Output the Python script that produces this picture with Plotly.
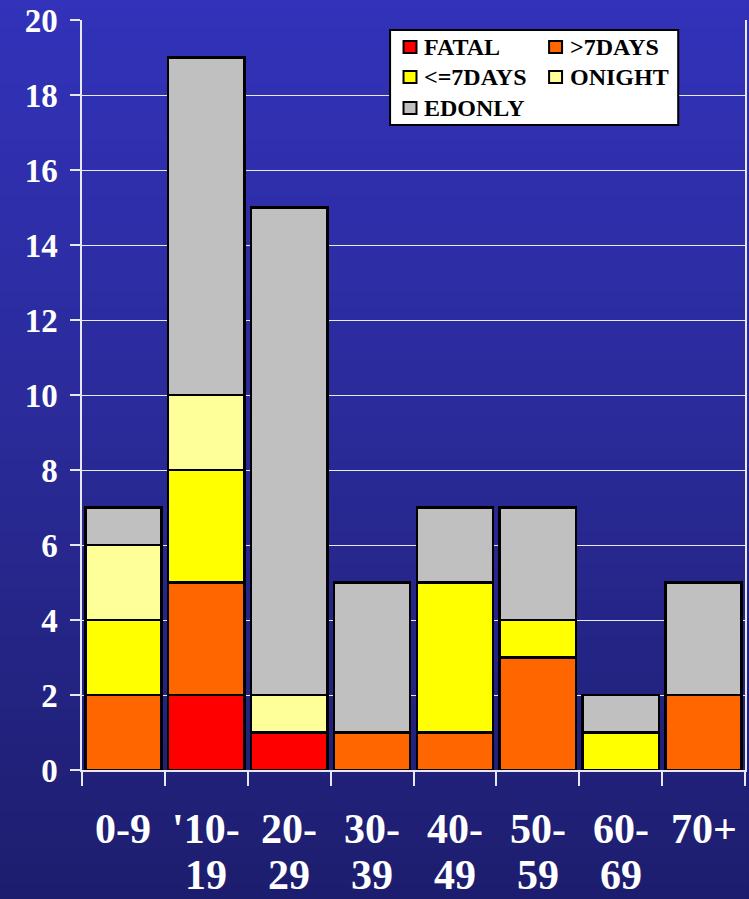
import plotly.graph_objects as go

# Age groups and tick text (two lines for most groups)
categories = ["0-9", "'10-19", "20-29", "30-39", "40-49", "50-59", "60-69", "70+"]
label_top = ["0-9", "'10-", "20-", "30-", "40-", "50-", "60-", "70+"]
label_bottom = ["", "19", "29", "39", "49", "59", "69", ""]

# Outcome counts per age group
fatal = [0, 2, 1, 0, 0, 0, 0, 0]
over_7_days = [2, 3, 0, 1, 1, 3, 0, 2]
upto_7_days = [2, 3, 0, 0, 4, 1, 1, 0]
overnight = [2, 2, 1, 0, 0, 0, 0, 0]
ed_only = [1, 9, 13, 4, 2, 3, 1, 3]

series_names = ["FATAL", ">7DAYS", "<=7DAYS", "ONIGHT", "EDONLY"]
series_values = [fatal, over_7_days, upto_7_days, overnight, ed_only]
series_colors = ["#FF0000", "#FF6600", "#FFFF00", "#FFFF99", "#C0C0C0"]

W, H = 749, 899
ML, MR, MT, MB = 82, 2, 20, 129
PW, PH = W - ML - MR, H - MT - MB
SERIF = "Liberation Serif, Times New Roman, serif"


def px_x(p):
    return (p - ML) / PW


def px_y(p):
    return (H - MB - p) / PH


fig = go.Figure()
for name, vals, col in zip(series_names, series_values, series_colors):
    fig.add_trace(go.Bar(
        x=categories, y=vals, name=name,
        marker=dict(color=col, line=dict(color="black", width=2.5)),
        showlegend=False,
    ))

shapes = []
# vertical blue gradient background
top_c, mid_c, bot_c = (50, 50, 186), (42, 42, 152), (29, 29, 110)
step = 4
for p in range(0, H, step):
    t = p / H
    if t < 0.49:
        f = t / 0.49
        c = [round(a + (b - a) * f) for a, b in zip(top_c, mid_c)]
    else:
        f = (t - 0.49) / 0.51
        c = [round(a + (b - a) * f) for a, b in zip(mid_c, bot_c)]
    shapes.append(dict(
        type="rect", xref="paper", yref="paper", layer="below",
        x0=px_x(-2), x1=px_x(W + 2), y0=px_y(p + step + 0.5), y1=px_y(p),
        fillcolor=f"rgb({c[0]},{c[1]},{c[2]})", line=dict(width=0),
    ))

# legend box
shapes.append(dict(
    type="rect", xref="paper", yref="paper", layer="above",
    x0=px_x(391), x1=px_x(680), y0=px_y(125), y1=px_y(30),
    fillcolor="white", line=dict(color="black", width=2),
))
legend_pos = [(411, 47), (557, 47), (411, 77), (557, 77), (411, 108)]
annotations = []
for (cx, cy), name, col in zip(legend_pos, series_names, series_colors):
    shapes.append(dict(
        type="rect", xref="paper", yref="paper", layer="above",
        x0=px_x(cx - 6.5), x1=px_x(cx + 6.5), y0=px_y(cy + 6), y1=px_y(cy - 6),
        fillcolor=col, line=dict(color="black", width=2),
    ))
    annotations.append(dict(
        xref="paper", yref="paper", x=px_x(cx + 12), y=px_y(cy),
        xanchor="left", yanchor="middle", showarrow=False,
        text=f"<b>{name}</b>",
        font=dict(family=SERIF, size=24, color="black"),
    ))

# category labels under the axis (two rows, fixed-height text boxes)
for cat, top, bottom in zip(categories, label_top, label_bottom):
    for txt, py in ((top, 829), (bottom, 875)):
        if txt:
            annotations.append(dict(
                x=cat, xref="x", yref="paper", y=px_y(py),
                xanchor="center", yanchor="middle", showarrow=False,
                height=40, borderpad=0,
                text=f"<b>{txt}</b>",
                font=dict(family=SERIF, size=42, color="white"),
            ))

fig.update_layout(
    width=W, height=H,
    margin=dict(l=ML, r=MR, t=MT, b=MB),
    barmode="stack", bargap=0.08,
    paper_bgcolor="rgb(29,29,110)", plot_bgcolor="rgba(0,0,0,0)",
    shapes=shapes, annotations=annotations,
    showlegend=False,
    xaxis=dict(
        type="category", categoryorder="array", categoryarray=categories,
        range=[-0.5, 7.5], showticklabels=False, showgrid=False,
        ticks="outside", tickson="boundaries", ticklen=14, tickcolor="#E8E8F4",
        tickwidth=1.5, showline=True, linecolor="#E8E8F4", linewidth=1.5,
        zeroline=False, fixedrange=True,
    ),
    yaxis=dict(
        range=[0, 20], dtick=2, tick0=0,
        showgrid=True, gridcolor="rgba(255,255,255,0.9)", gridwidth=1,
        ticks="outside", ticklen=10, tickcolor="#E8E8F4", tickwidth=1.5,
        showline=True, linecolor="#E8E8F4", linewidth=1.5, mirror=True,
        zeroline=False, ticklabelstandoff=6,
        tickfont=dict(family=SERIF, size=33, color="white", weight="bold"),
    ),
)

fig.write_html("out.html")
